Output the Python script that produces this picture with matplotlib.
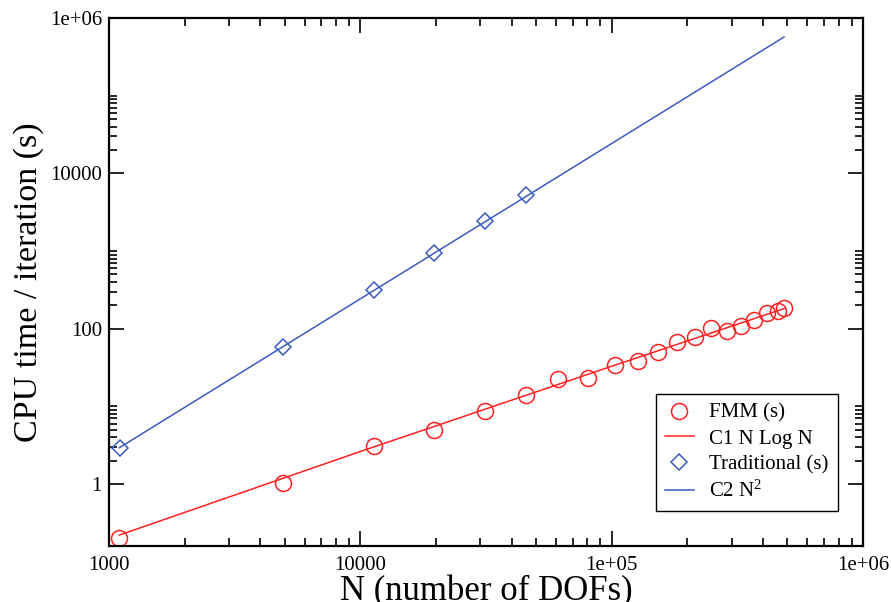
import numpy as np
import matplotlib
matplotlib.use("Agg")
import matplotlib.pyplot as plt
from matplotlib.ticker import FixedLocator, FixedFormatter, NullFormatter

plt.rcParams['font.family'] = ['Liberation Serif', 'DejaVu Serif']
plt.rcParams['mathtext.fontset'] = 'custom'
plt.rcParams['mathtext.rm'] = 'Liberation Serif'
plt.rcParams['mathtext.it'] = 'Liberation Serif:italic'

# FMM timings (s) vs number of DOFs
fmm_n = [1100, 4920, 11340, 19600, 31300, 45500, 61400, 80800, 102800, 127000,
         153500, 182500, 214600, 248700, 287300, 326500, 368700, 414000, 460500, 485000]
fmm_t = [0.20, 1.02, 3.11, 4.91, 8.71, 14.0, 22.3, 23.4, 34.1, 38.7,
         50.5, 66.7, 77.4, 101, 93.3, 108, 129, 158, 170, 186]

# traditional solver timings (s)
trad_n = [1106, 4920, 11340, 19630, 31330, 45600]
trad_t = [2.93, 58.6, 312, 942, 2411, 5260]

# fitted curves
c1_n = [1100, 10000, 100000, 485000]
c1_t = [0.22, 2.62, 32.8, 181]
c2_n = [1100, 485000]
c2_t = [2.93, 5.69e5]

red = '#ff2020'
blue = '#3a5bbf'

fig = plt.figure(figsize=(8.91, 6.02), dpi=100)
ax = fig.add_axes([0.1223, 0.0930, 0.8463, 0.8771])

ax.plot(fmm_n, fmm_t, linestyle='none', marker='o', ms=11.5, mfc='none',
        mec=red, mew=1.1, label='FMM (s)')
ax.plot(c1_n, c1_t, color=red, lw=1.1, label='C1 N Log N')
ax.plot(trad_n, trad_t, linestyle='none', marker='D', ms=7.8, mfc='none',
        mec=blue, mew=1.1, label='Traditional (s)')
ax.plot(c2_n, c2_t, color=blue, lw=1.1, label='C2 N$^{2}$')

ax.set_xscale('log')
ax.set_yscale('log')
ax.set_xlim(1000, 1e6)
ax.set_ylim(0.159, 1e6)

xmaj = [1e3, 1e4, 1e5, 1e6]
xmin = [k * 10.0**e for e in (3, 4, 5) for k in range(2, 10)]
ymaj = [1, 100, 1e4, 1e6]
ymin = [k * 10.0**e for e in (0, 2, 4) for k in range(2, 11)]
ax.xaxis.set_major_locator(FixedLocator(xmaj))
ax.xaxis.set_major_formatter(FixedFormatter(['1000', '10000', '1e+05', '1e+06']))
ax.xaxis.set_minor_locator(FixedLocator(xmin))
ax.xaxis.set_minor_formatter(NullFormatter())
ax.yaxis.set_major_locator(FixedLocator(ymaj))
ax.yaxis.set_major_formatter(FixedFormatter(['1', '100', '10000', '1e+06']))
ax.yaxis.set_minor_locator(FixedLocator(ymin))
ax.yaxis.set_minor_formatter(NullFormatter())

ax.tick_params(which='both', direction='in', top=True, right=True, width=1.2,
               labelsize=15)
ax.tick_params(which='major', length=11)
ax.tick_params(which='minor', length=5.5)
ax.tick_params(axis='x', pad=7)
ax.tick_params(axis='y', pad=5)
for s in ax.spines.values():
    s.set_linewidth(1.6)

ax.set_xlabel('N (number of DOFs)', fontsize=25, labelpad=0.5)
ax.set_ylabel('CPU time / iteration (s)', fontsize=24.5, labelpad=4)

leg = ax.legend(loc='upper left', bbox_to_anchor=(0.7255, 0.2879), fontsize=15,
                frameon=True, fancybox=False, edgecolor='black', framealpha=1,
                handlelength=1.35, handletextpad=0.75, labelspacing=0.3,
                borderpad=0.45, borderaxespad=0)
leg.get_frame().set_linewidth(1.0)

fig.savefig('out.png', dpi=100)
